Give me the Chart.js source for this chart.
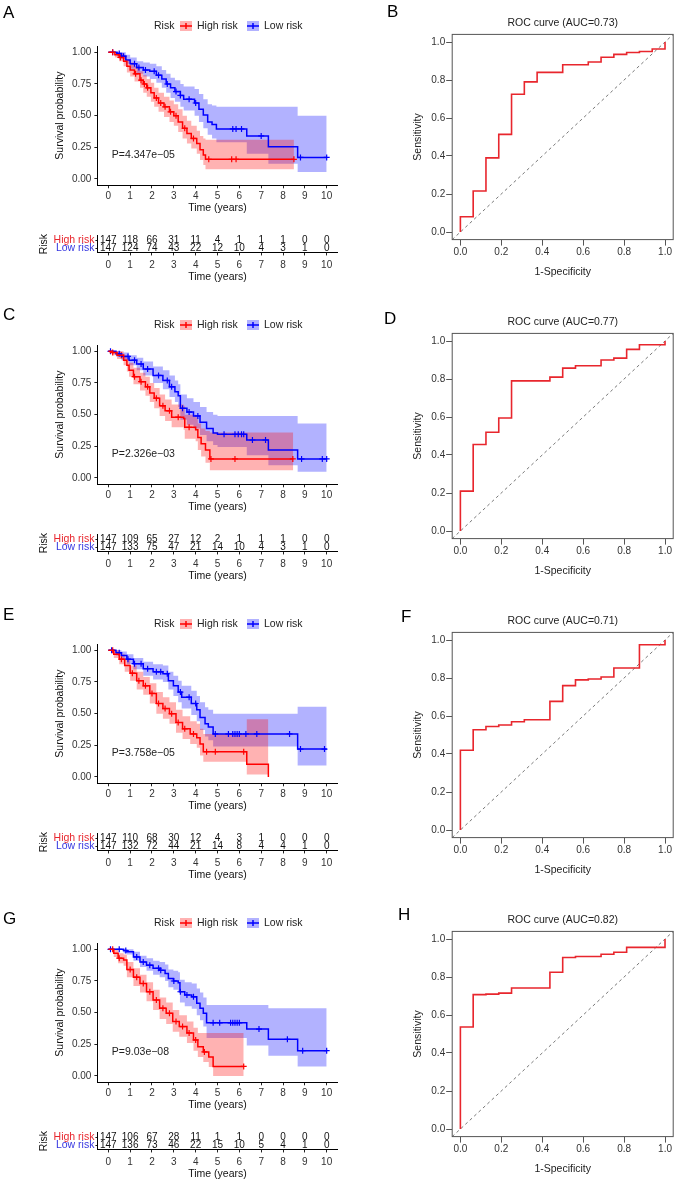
<!DOCTYPE html>
<html>
<head>
<meta charset="utf-8">
<script src="https://cdn.jsdelivr.net/npm/chart.js@4.4.1/dist/chart.umd.min.js"></script>
<style>
  body { margin: 0; background: #fff; }
  #fig { position: relative; width: 676px; height: 1183px; background: #fff; overflow: hidden; }
  .lab { position: absolute; font: 17px "Liberation Sans", Arial, sans-serif; line-height: 17px; color: #000; }
</style>
</head>
<body>
<div id="fig"></div>
<script>
// ---- data ----
const timeTicks = [0, 1, 2, 3, 4, 5, 6, 7, 8, 9, 10];
const survTicks = [0, 0.25, 0.5, 0.75, 1];
const rocTicks = [0, 0.2, 0.4, 0.6, 0.8, 1];
const groups = ['High risk', 'Low risk'];

// KM steps: [time, survival, lower CI, upper CI]
const A_high = [[0,1,1,1],[0.3,0.98,0.96,1],[0.5,0.96,0.93,0.99],[0.7,0.93,0.89,0.97],[0.85,0.89,0.84,0.94],[1.0,0.86,0.81,0.92],[1.2,0.83,0.77,0.89],[1.45,0.78,0.72,0.85],[1.6,0.75,0.68,0.82],[1.76,0.72,0.65,0.79],[1.95,0.68,0.61,0.76],[2.1,0.64,0.57,0.72],[2.3,0.6,0.53,0.68],[2.55,0.57,0.49,0.65],[2.8,0.53,0.45,0.62],[3.0,0.5,0.42,0.59],[3.2,0.45,0.37,0.55],[3.4,0.4,0.32,0.5],[3.6,0.36,0.28,0.46],[3.8,0.32,0.24,0.42],[4.05,0.28,0.2,0.38],[4.2,0.23,0.15,0.34],[4.35,0.19,0.11,0.32],[4.45,0.155,0.077,0.31],[8.5,0.155,0.077,0.31]];
const A_low = [[0,1,1,1],[0.4,0.99,0.97,1],[0.6,0.97,0.95,1],[0.8,0.94,0.91,0.98],[1.0,0.91,0.87,0.96],[1.3,0.88,0.83,0.93],[1.6,0.86,0.81,0.92],[1.9,0.85,0.79,0.91],[2.2,0.82,0.76,0.89],[2.45,0.79,0.72,0.86],[2.65,0.75,0.68,0.83],[2.85,0.72,0.64,0.8],[3.05,0.69,0.61,0.78],[3.3,0.66,0.57,0.75],[3.45,0.63,0.54,0.73],[3.95,0.6,0.5,0.71],[4.15,0.55,0.45,0.67],[4.35,0.505,0.4,0.63],[4.55,0.45,0.35,0.59],[4.75,0.43,0.32,0.58],[4.95,0.395,0.29,0.57],[6.34,0.34,0.2,0.57],[7.33,0.255,0.12,0.57],[8.67,0.17,0.055,0.5],[10.0,0.17,0.055,0.5]];
const C_high = [[0,1,1,1],[0.2,0.99,0.97,1],[0.4,0.97,0.94,1],[0.7,0.93,0.89,0.97],[0.85,0.89,0.84,0.94],[0.95,0.85,0.8,0.91],[1.15,0.8,0.74,0.87],[1.45,0.76,0.69,0.83],[1.7,0.72,0.65,0.8],[1.9,0.67,0.6,0.75],[2.1,0.63,0.55,0.71],[2.35,0.57,0.49,0.66],[2.6,0.53,0.45,0.62],[2.9,0.48,0.4,0.58],[3.45,0.47,0.38,0.57],[3.5,0.4,0.31,0.5],[4.0,0.38,0.29,0.48],[4.1,0.32,0.22,0.43],[4.25,0.27,0.17,0.39],[4.45,0.22,0.12,0.37],[4.65,0.15,0.06,0.36],[8.47,0.15,0.06,0.36]];
const C_low = [[0,1,1,1],[0.35,0.98,0.96,1],[0.6,0.96,0.93,0.99],[0.95,0.93,0.89,0.97],[1.3,0.9,0.85,0.95],[1.6,0.86,0.81,0.92],[2.05,0.81,0.75,0.88],[2.5,0.77,0.7,0.85],[2.8,0.72,0.64,0.81],[3.05,0.68,0.6,0.77],[3.2,0.65,0.56,0.74],[3.3,0.55,0.46,0.66],[3.6,0.52,0.42,0.63],[3.9,0.49,0.39,0.6],[4.2,0.44,0.34,0.56],[4.5,0.39,0.29,0.52],[4.8,0.355,0.26,0.5],[5.0,0.345,0.245,0.49],[6.34,0.3,0.18,0.49],[7.33,0.22,0.1,0.49],[8.67,0.15,0.05,0.43],[10.0,0.15,0.05,0.43]];
const E_high = [[0,1,1,1],[0.25,0.97,0.94,1],[0.5,0.93,0.89,0.97],[0.75,0.88,0.83,0.93],[1.0,0.82,0.76,0.88],[1.3,0.76,0.69,0.83],[1.6,0.72,0.65,0.79],[1.9,0.66,0.58,0.74],[2.2,0.58,0.5,0.67],[2.5,0.54,0.46,0.63],[2.8,0.5,0.42,0.59],[3.1,0.43,0.35,0.53],[3.4,0.38,0.3,0.48],[3.75,0.34,0.26,0.44],[4.05,0.31,0.23,0.42],[4.2,0.26,0.17,0.38],[4.35,0.2,0.12,0.34],[6.34,0.1,0.02,0.455],[7.33,0,0,0]];
const E_low = [[0,1,1,1],[0.35,0.98,0.96,1],[0.6,0.96,0.93,0.99],[0.85,0.93,0.89,0.97],[1.15,0.895,0.85,0.94],[1.6,0.855,0.8,0.91],[2.05,0.83,0.77,0.89],[2.5,0.815,0.75,0.88],[2.75,0.76,0.69,0.83],[2.98,0.72,0.64,0.8],[3.2,0.67,0.59,0.76],[3.36,0.63,0.54,0.72],[3.8,0.58,0.49,0.68],[4.05,0.53,0.44,0.64],[4.2,0.47,0.37,0.59],[4.43,0.42,0.32,0.55],[4.58,0.395,0.29,0.53],[4.8,0.34,0.24,0.5],[8.67,0.22,0.09,0.555],[10.0,0.22,0.09,0.555]];
const G_high = [[0,1,1,1],[0.25,0.97,0.94,1],[0.45,0.93,0.89,0.97],[0.7,0.915,0.87,0.96],[0.85,0.84,0.78,0.9],[1.15,0.78,0.71,0.85],[1.45,0.73,0.66,0.8],[1.75,0.665,0.59,0.74],[2.05,0.6,0.52,0.68],[2.35,0.535,0.45,0.62],[2.65,0.495,0.41,0.58],[2.95,0.43,0.35,0.52],[3.25,0.39,0.31,0.48],[3.6,0.34,0.26,0.43],[3.9,0.285,0.2,0.38],[4.1,0.23,0.15,0.34],[4.35,0.19,0.11,0.34],[4.6,0.15,0.07,0.34],[4.8,0.075,0.0,0.34],[6.2,0.075,0.0,0.34]];
const G_low = [[0,1,1,1],[0.7,0.99,0.97,1],[0.85,0.98,0.96,1],[1.15,0.94,0.91,0.98],[1.45,0.9,0.86,0.95],[1.75,0.875,0.83,0.93],[2.05,0.85,0.8,0.91],[2.35,0.835,0.78,0.9],[2.6,0.81,0.75,0.88],[2.75,0.77,0.7,0.84],[2.98,0.75,0.68,0.83],[3.2,0.737,0.66,0.82],[3.28,0.665,0.58,0.76],[3.5,0.64,0.55,0.74],[3.82,0.625,0.53,0.73],[4.05,0.575,0.48,0.69],[4.2,0.535,0.44,0.66],[4.35,0.495,0.39,0.62],[4.5,0.42,0.3,0.56],[6.34,0.37,0.24,0.56],[7.33,0.29,0.16,0.535],[8.67,0.2,0.075,0.535],[10.0,0.2,0.075,0.535]];

// censored times (the "+" marks)
const A_highCens = [0.2,0.55,1.25,1.5,1.65,1.8,2.2,2.4,2.6,2.85,3.1,3.5,3.9,4.6,5.65,5.85,8.5];
const A_lowCens = [0.2,0.5,0.7,1.2,1.4,1.7,2.1,2.3,2.7,3.1,3.3,3.7,4.0,5.7,5.85,6.1,7.0,8.8,10.0];
const C_highCens = [0.2,0.6,1.2,1.5,1.8,2.2,2.5,2.8,3.2,3.7,4.7,5.8,8.45];
const C_lowCens = [0.1,0.5,0.9,1.2,1.5,1.8,2.3,2.7,2.9,3.4,3.7,4.1,5.3,5.8,5.95,6.1,6.2,6.6,7.2,8.85,9.8,10.0];
const E_highCens = [0.2,0.6,1.1,1.4,1.7,2.0,2.3,2.6,2.9,3.2,3.5,3.9,4.5,4.9,6.2];
const E_lowCens = [0.15,0.5,0.9,1.2,1.5,1.8,2.2,2.4,2.7,3.3,3.7,4.0,4.9,5.5,5.7,5.8,5.9,6.0,6.3,6.8,8.3,8.8,9.9];
const G_highCens = [0.2,0.5,1.0,1.3,1.6,1.9,2.2,2.5,2.8,3.1,3.4,3.7,4.0,4.4,6.2];
const G_lowCens = [0.1,0.5,0.8,1.3,1.6,1.9,2.3,2.4,3.0,3.3,3.6,3.9,4.8,5.1,5.6,5.7,5.8,5.9,6.0,6.9,8.2,8.9,10.0];

// numbers at risk
const A_riskHigh = [147,118,66,31,11,4,1,1,1,0,0];
const A_riskLow = [147,124,74,43,22,12,10,4,3,1,0];
const C_riskHigh = [147,109,65,27,12,2,1,1,1,0,0];
const C_riskLow = [147,133,75,47,21,14,10,4,3,1,0];
const E_riskHigh = [147,110,68,30,12,4,3,1,0,0,0];
const E_riskLow = [147,132,72,44,21,14,8,4,4,1,0];
const G_riskHigh = [147,106,67,28,11,1,1,0,0,0,0];
const G_riskLow = [147,136,73,46,22,15,10,5,4,1,0];

const pValues = ['P=4.347e\u221205', 'P=2.326e\u221203', 'P=3.758e\u221205', 'P=9.03e\u221208'];

// ROC corner points (1-specificity, sensitivity)
const B_fpr = [0,0,0.0625,0.125,0.1875,0.25,0.3125,0.375,0.5,0.625,0.6875,0.75,0.8125,0.875,0.9375,1];
const B_tpr = [0,0.08,0.216,0.39,0.514,0.725,0.79,0.84,0.88,0.895,0.92,0.935,0.945,0.95,0.963,1];
const D_fpr = [0,0,0.0625,0.125,0.1875,0.25,0.4375,0.5,0.5625,0.6875,0.75,0.8125,0.875,1];
const D_tpr = [0,0.21,0.455,0.52,0.595,0.79,0.81,0.857,0.87,0.9,0.91,0.956,0.98,1];
const F_fpr = [0,0,0.0625,0.125,0.1875,0.25,0.3125,0.4375,0.5,0.5625,0.625,0.6875,0.75,0.875,1];
const F_tpr = [0,0.42,0.528,0.545,0.553,0.57,0.58,0.677,0.76,0.79,0.795,0.805,0.853,0.975,1];
const H_fpr = [0,0,0.0625,0.125,0.1875,0.25,0.4375,0.5,0.5625,0.6875,0.75,0.8125,1];
const H_tpr = [0,0.537,0.707,0.71,0.715,0.742,0.825,0.903,0.908,0.92,0.93,0.956,1];
const aucValues = ['0.73', '0.77', '0.71', '0.82'];

const rowTops = [0, 299, 598, 897];

// ---- drawing ----
const FONT = '"Liberation Sans", Arial, sans-serif';
Chart.defaults.font.family = FONT;
Chart.defaults.animation = false;
const RED = '#ff0000', BLUE = '#0000ff';
const RED_BAND = 'rgba(255,0,0,0.3)', BLUE_BAND = 'rgba(0,0,255,0.3)';
const fig = document.getElementById('fig');

function addCanvas(left, top, w, h) {
  const c = document.createElement('canvas');
  c.width = w; c.height = h;
  c.style.cssText = `position:absolute;left:${left}px;top:${top}px;width:${w}px;height:${h}px`;
  fig.appendChild(c);
  return c;
}
function addLabel(txt, left, top) {
  const d = document.createElement('div');
  d.className = 'lab'; d.textContent = txt;
  d.style.left = left + 'px'; d.style.top = top + 'px';
  fig.appendChild(d);
}

const stepAt = (arr, t) => { let s = arr[0][1]; arr.forEach(p => { if (p[0] <= t) s = p[1]; }); return s; };
const col = (arr, k) => arr.map(p => ({x: p[0], y: p[k]}));

const timeAxis = (height, pad) => ({
  type: 'linear', min: -0.5, max: 10.5,
  afterBuildTicks: s => { s.ticks = timeTicks.map(v => ({value: v})); },
  afterFit: s => { s.height = height; },
  ticks: {font: {size: 10}, color: '#333', padding: pad, maxRotation: 0, autoSkip: false},
  grid: {drawOnChartArea: false, tickLength: 3, color: '#222'},
  border: {color: '#000', width: 1},
  title: {display: true, text: 'Time (years)', font: {size: 10.5}, color: '#111', padding: {top: 0, bottom: 0}}
});

const kmText = {
  id: 'kmText',
  afterDraw(chart, args, opts) {
    const {ctx, scales: {x, y}} = chart;
    ctx.save();
    ctx.font = '10.5px ' + FONT;
    ctx.textBaseline = 'middle'; ctx.textAlign = 'left';
    ctx.fillStyle = '#222';
    ctx.fillText(opts.p, x.getPixelForValue(0.16), y.getPixelForValue(0.19));
    const ly = 26;
    ctx.fillText('Risk', 154, ly);
    [[180, RED, RED_BAND, groups[0]], [247, BLUE, BLUE_BAND, groups[1]]].forEach(([kx, c, band, label]) => {
      ctx.fillStyle = band; ctx.fillRect(kx, ly - 5, 12, 10);
      ctx.strokeStyle = c; ctx.lineWidth = 1.5;
      ctx.beginPath();
      ctx.moveTo(kx, ly); ctx.lineTo(kx + 12, ly);
      ctx.moveTo(kx + 6, ly - 3); ctx.lineTo(kx + 6, ly + 3);
      ctx.stroke();
      ctx.fillStyle = '#222'; ctx.fillText(label, kx + 17, ly);
    });
    ctx.restore();
  }
};

function kmChart(top, high, low, highCens, lowCens, p) {
  const line = (data, color) => ({data, borderColor: color, borderWidth: 1.5, stepped: 'before', pointRadius: 0, fill: false});
  const cens = (arr, times, color) => ({data: times.map(t => ({x: t, y: stepAt(arr, t)})), showLine: false,
    pointStyle: 'cross', pointRadius: 3, borderColor: color, borderWidth: 1.2, pointBorderColor: color});
  const band = (data, fill, bg) => ({data, borderWidth: 0, borderColor: 'transparent', pointRadius: 0, stepped: 'before', fill, backgroundColor: bg});
  new Chart(addCanvas(0, top, 340, 216), {
    type: 'line',
    data: {datasets: [
      line(col(high, 1), RED), line(col(low, 1), BLUE),
      cens(high, highCens, RED), cens(low, lowCens, BLUE),
      band(col(high, 2), false), band(col(high, 3), '-1', RED_BAND),
      band(col(low, 2), false), band(col(low, 3), '-1', BLUE_BAND)
    ]},
    options: {
      responsive: false, devicePixelRatio: 1,
      layout: {autoPadding: false, padding: {left: 53.7, right: 2.4, top: 46, bottom: 1.7}},
      plugins: {legend: {display: false}, tooltip: {enabled: false}, kmText: {p}},
      scales: {
        x: timeAxis(29, 2),
        y: {
          type: 'linear', min: -0.05, max: 1.05,
          afterBuildTicks: s => { s.ticks = survTicks.map(v => ({value: v})); },
          afterFit: s => { s.width = 43.7; },
          ticks: {font: {size: 10}, color: '#333', padding: 3, callback: v => v.toFixed(2)},
          grid: {drawOnChartArea: false, tickLength: 3, color: '#222'},
          border: {color: '#000', width: 1},
          title: {display: true, text: 'Survival probability', font: {size: 10.5}, color: '#111', padding: {top: 0, bottom: 0}}
        }
      }
    },
    plugins: [kmText]
  });
}

const riskText = {
  id: 'riskText',
  afterDatasetsDraw(chart, args, opts) {
    const {ctx, scales: {x, y}} = chart;
    ctx.save();
    ctx.font = '10px ' + FONT;
    ctx.fillStyle = '#111'; ctx.textAlign = 'center'; ctx.textBaseline = 'middle';
    opts.rows.forEach((row, i) => row.forEach((n, j) => {
      ctx.fillText(String(n), x.getPixelForValue(timeTicks[j]), y.getPixelForValue(i));
    }));
    ctx.restore();
  }
};

function riskChart(top, riskHigh, riskLow) {
  new Chart(addCanvas(0, top + 222, 340, 63), {
    type: 'line',
    data: {datasets: [{data: []}]},
    options: {
      responsive: false, devicePixelRatio: 1,
      layout: {autoPadding: false, padding: {left: 37.7, right: 2.4, top: 13.85, bottom: 1.2}},
      plugins: {legend: {display: false}, tooltip: {enabled: false}, riskText: {rows: [riskHigh, riskLow]}},
      scales: {
        x: timeAxis(31.35, 4),
        y: {
          type: 'category', labels: groups, offset: true,
          afterFit: s => { s.width = 59.7; },
          ticks: {font: {size: 10.5}, padding: 1, autoSkip: false, color: c => c.index === 0 ? '#e8262d' : '#3535e0'},
          grid: {drawOnChartArea: false, tickLength: 2, color: '#222', offset: false},
          border: {color: '#000', width: 1},
          title: {display: true, text: 'Risk', font: {size: 10.5}, color: '#111', padding: {top: 0, bottom: 0}}
        }
      }
    },
    plugins: [riskText]
  });
}

const rocFrame = {
  id: 'rocFrame',
  afterDraw(chart, args, opts) {
    const {ctx, chartArea: a} = chart;
    ctx.save();
    ctx.strokeStyle = '#555'; ctx.lineWidth = 1;
    ctx.strokeRect(a.left, a.top, a.right - a.left, a.bottom - a.top);
    ctx.font = '10.5px ' + FONT; ctx.fillStyle = '#222';
    ctx.textAlign = 'center'; ctx.textBaseline = 'middle';
    ctx.fillText(opts.title, (a.left + a.right) / 2, a.top - 11.5);
    ctx.restore();
  }
};

function rocChart(top, fpr, tpr, auc) {
  const rocAxis = (title, fit) => ({
    type: 'linear', min: -0.04, max: 1.04,
    afterBuildTicks: s => { s.ticks = rocTicks.map(v => ({value: v})); },
    afterFit: fit,
    ticks: {font: {size: 10}, color: '#333', padding: 1, maxRotation: 0, autoSkip: false, callback: v => v.toFixed(1)},
    grid: {drawOnChartArea: false, tickLength: 6, color: '#555'},
    border: {display: false},
    title: {display: true, text: title, font: {size: 10.5}, color: '#222', padding: {top: 0, bottom: 0}}
  });
  new Chart(addCanvas(380, top, 296, 285), {
    type: 'line',
    data: {datasets: [
      {data: fpr.map((f, i) => ({x: f, y: tpr[i]})), borderColor: '#e8262d', borderWidth: 1.6, stepped: 'before', pointRadius: 0, fill: false},
      {data: [{x: -0.04, y: -0.04}, {x: 1.04, y: 1.04}], borderColor: '#555', borderWidth: 0.8, borderDash: [3, 3], pointRadius: 0, fill: false}
    ]},
    options: {
      responsive: false, devicePixelRatio: 1,
      layout: {autoPadding: false, padding: {left: 31.7, right: 2.8, top: 34.4, bottom: 6.7}},
      plugins: {legend: {display: false}, tooltip: {enabled: false}, rocFrame: {title: 'ROC curve (AUC=' + auc + ')'}},
      scales: {
        x: rocAxis('1-Specificity', s => { s.height = 38.7; }),
        y: rocAxis('Sensitivity', s => { s.width = 40.5; })
      }
    },
    plugins: [rocFrame]
  });
}

const km = [[A_high, A_low, A_highCens, A_lowCens], [C_high, C_low, C_highCens, C_lowCens],
            [E_high, E_low, E_highCens, E_lowCens], [G_high, G_low, G_highCens, G_lowCens]];
const risk = [[A_riskHigh, A_riskLow], [C_riskHigh, C_riskLow], [E_riskHigh, E_riskLow], [G_riskHigh, G_riskLow]];
const roc = [[B_fpr, B_tpr], [D_fpr, D_tpr], [F_fpr, F_tpr], [H_fpr, H_tpr]];

rowTops.forEach((top, i) => {
  kmChart(top, km[i][0], km[i][1], km[i][2], km[i][3], pValues[i]);
  riskChart(top, risk[i][0], risk[i][1]);
  rocChart(top, roc[i][0], roc[i][1], aucValues[i]);
});

// panel letters
[['A', 3, 4], ['B', 387, 3], ['C', 3, 306], ['D', 384, 310], ['E', 3, 606], ['F', 401, 608], ['G', 3, 910], ['H', 398, 906]]
  .forEach(([t, x, y]) => addLabel(t, x, y));
</script>
</body>
</html>
